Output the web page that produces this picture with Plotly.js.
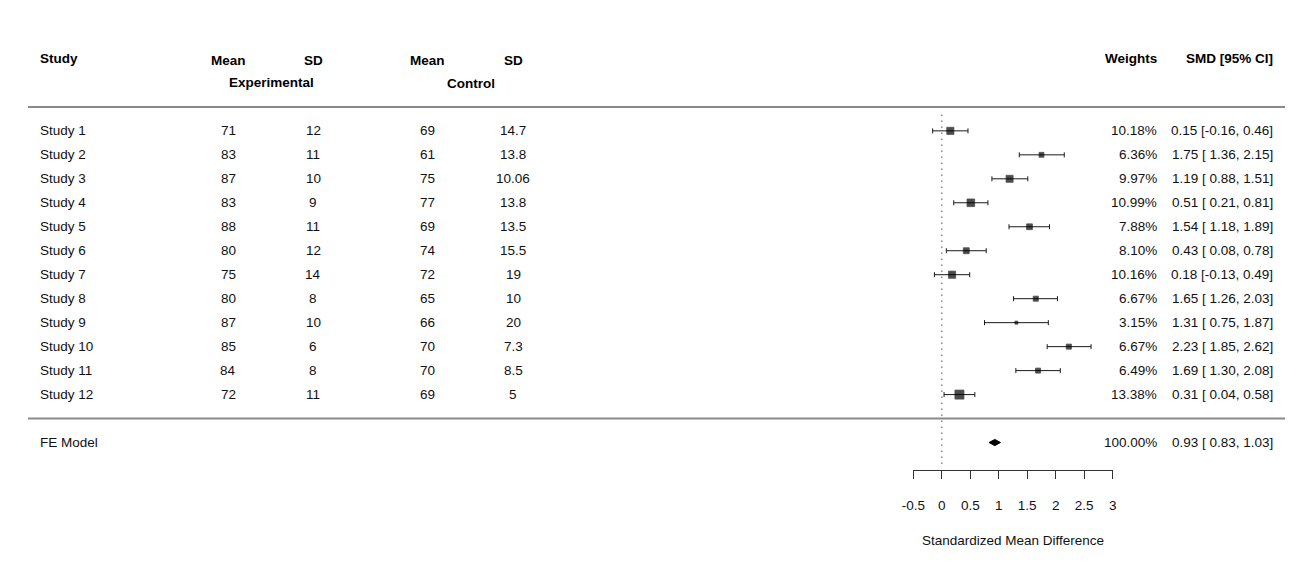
<!DOCTYPE html>
<html>
<head>
<meta charset="utf-8">
<script src="https://cdn.plot.ly/plotly-3.0.1.min.js"></script>
<style>
html,body{margin:0;padding:0;background:#fff;}
#chart{width:1315px;height:577px;}
</style>
</head>
<body>
<div id="chart"></div>
<script>
// ---- data ----
const studies = ["Study 1","Study 2","Study 3","Study 4","Study 5","Study 6","Study 7","Study 8","Study 9","Study 10","Study 11","Study 12"];
const expMean = [71,83,87,83,88,80,75,80,87,85,84,72];
const expSD   = [12,11,10,9,11,12,14,8,10,6,8,11];
const ctlMean = [69,61,75,77,69,74,72,65,66,70,70,69];
const ctlSD   = [14.7,13.8,10.06,13.8,13.5,15.5,19,10,20,7.3,8.5,5];
const weights = [10.18,6.36,9.97,10.99,7.88,8.10,10.16,6.67,3.15,6.67,6.49,13.38];
const smd     = [0.15,1.75,1.19,0.51,1.54,0.43,0.18,1.65,1.31,2.23,1.69,0.31];
const ciLow   = [-0.16,1.36,0.88,0.21,1.18,0.08,-0.13,1.26,0.75,1.85,1.30,0.04];
const ciHigh  = [0.46,2.15,1.51,0.81,1.89,0.78,0.49,2.03,1.87,2.62,2.08,0.58];
const feLabel = "FE Model";
const feWeight = 100.00;
const feEst = 0.93, feLow = 0.83, feHigh = 1.03;
const tickVals = [-0.5,0,0.5,1,1.5,2,2.5,3];
const tickText = ["-0.5","0","0.5","1","1.5","2","2.5","3"];
const xTitle = "Standardized Mean Difference";

// ---- layout helpers ----
const W = 1315, H = 577;
const FONT = '"Liberation Sans", Arial, Helvetica, sans-serif';
const TXT = '#111111';
const FS = 13.5;
const n = studies.length;
const rowY = studies.map((s,i)=> n - i);   // Study 1 at top
const feY = -1;
const px = p => p / W;

// sizes from weights (metafor style: 0.5..1.5 scale)
const wmin = Math.min(...weights), wmax = Math.max(...weights);
const msize = weights.map(w => 6 * (0.5 + (w - wmin) / (wmax - wmin)));

function pad(vals) {
  const strs = vals.map(v => v.toFixed(2));
  const L = Math.max(...strs.map(s => s.length));
  return strs.map(s => '\u00a0'.repeat(L - s.length) + s);
}
const allLow = ciLow.concat([feLow]);
const allHigh = ciHigh.concat([feHigh]);
const allEst = smd.concat([feEst]);
const pl = pad(allLow), ph = pad(allHigh), pe = pad(allEst);
const ciText = allEst.map((v,i)=> pe[i] + ' [' + pl[i] + ', ' + ph[i] + ']');

const traces = [
  {
    type: 'scatter', mode: 'markers',
    x: smd, y: rowY,
    marker: {symbol: 'square', size: msize, color: '#000', line: {width: 0.8, color: '#000'}},
    error_x: {
      type: 'data', symmetric: false,
      array: smd.map((v,i)=> ciHigh[i] - v),
      arrayminus: smd.map((v,i)=> v - ciLow[i]),
      color: '#1a1a1a', thickness: 1, width: 2.5
    },
    hoverinfo: 'skip', showlegend: false
  },
  {
    type: 'scatter', mode: 'lines',
    x: [feLow, feEst, feHigh, feEst, feLow],
    y: [feY, feY + 0.13, feY, feY - 0.13, feY],
    fill: 'toself', fillcolor: '#000',
    line: {color: '#000', width: 1},
    hoverinfo: 'skip', showlegend: false
  }
];

const ann = [];
function addText(text, xpix, y, anchor, bold) {
  ann.push({
    text: bold ? '<b>' + text + '</b>' : text,
    xref: 'paper', yref: 'y', x: px(xpix), y: y,
    xanchor: anchor, yanchor: 'middle', showarrow: false,
    font: {family: FONT, size: FS, color: bold ? '#000' : TXT}
  });
}
// headers
addText('Study', 38, 15.03, 'left', true);
addText('Mean', 228, 14.93, 'center', true);
addText('SD', 313, 14.93, 'center', true);
addText('Mean', 428, 14.93, 'center', true);
addText('SD', 513, 14.93, 'center', true);
addText('Experimental', 271, 14.0, 'center', true);
addText('Control', 471, 13.96, 'center', true);
addText('Weights', 1159, 15.03, 'right', true);
addText('SMD [95% CI]', 1275, 15.03, 'right', true);
// rows
studies.forEach((s,i)=>{
  const y = rowY[i];
  addText(s, 38, y, 'left');
  addText(String(expMean[i]), 228, y, 'center');
  addText(String(expSD[i]), 313, y, 'center');
  addText(String(ctlMean[i]), 428, y, 'center');
  addText(String(ctlSD[i]), 513, y, 'center');
  addText(weights[i].toFixed(2) + '%', 1159, y, 'right');
  addText(ciText[i], 1275, y, 'right');
});
addText(feLabel, 38, feY, 'left');
addText(feWeight.toFixed(2) + '%', 1159, feY, 'right');
addText(ciText[n], 1275, feY, 'right');

const shapes = [
  {type:'line', xref:'paper', yref:'y', x0: px(28), x1: px(1285), y0: n + 1, y1: n + 1,
   line:{color:'#8a8a8a', width:2}},
  {type:'line', xref:'paper', yref:'y', x0: px(28), x1: px(1285), y0: 0, y1: 0,
   line:{color:'#8a8a8a', width:2}},
  {type:'line', xref:'x', yref:'y', x0: 0, x1: 0, y0: -1.9, y1: n + 0.85,
   line:{color:'#8c8c8c', width:1.5, dash:'1.5px,4.5px'}}
];

const layout = {
  width: W, height: H,
  margin: {l:0, r:0, t:0, b:106.5, pad:0},
  paper_bgcolor: '#fff', plot_bgcolor: 'rgba(0,0,0,0)',
  font: {family: FONT, size: FS, color: TXT},
  showlegend: false,
  xaxis: {
    domain: [px(913.3), px(1112.7)],
    range: [-0.5, 3],
    tickvals: tickVals, ticktext: tickText,
    ticks: 'outside', ticklen: 8, tickwidth: 1, tickcolor: '#333',
    showline: true, linecolor: '#333', linewidth: 1,
    showgrid: false, zeroline: false,
    ticklabelstandoff: 15,
    tickfont: {family: FONT, size: FS, color: TXT},
    title: {text: xTitle, standoff: 23, font: {family: FONT, size: FS, color: TXT}},
    fixedrange: true
  },
  yaxis: {
    domain: [0, 1],
    range: [-2.146, 17.458],
    visible: false, showgrid: false, zeroline: false, fixedrange: true
  },
  shapes: shapes,
  annotations: ann
};

Plotly.newPlot('chart', traces, layout, {displayModeBar: false, staticPlot: true});
</script>
</body>
</html>
